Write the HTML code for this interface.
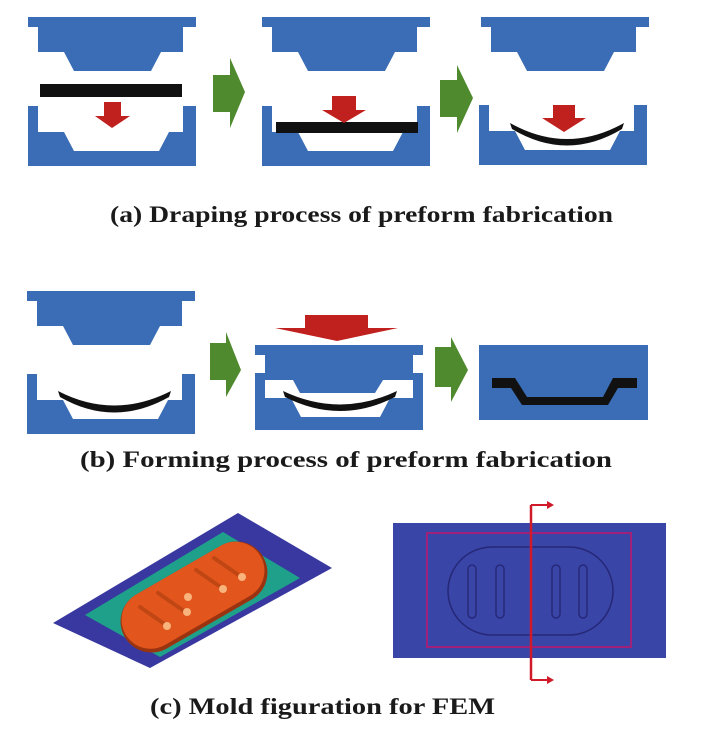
<!DOCTYPE html>
<html><head><meta charset="utf-8"><style>
html,body{margin:0;padding:0;background:#fff;}
svg{display:block;}
text{font-family:"Liberation Serif",serif;font-weight:bold;fill:#1a1a1a;}
</style></head><body>
<svg width="710" height="736" viewBox="0 0 710 736" xmlns="http://www.w3.org/2000/svg">
<defs>
<g id="up"><polygon points="0,0 168,0 168,10 155,10 155,35 133,35 123,54 46,54 36,35 10,35 10,10 0,10" fill="#3a6db5"/></g>
<g id="low"><rect x="0" y="0" width="168" height="60" fill="#3a6db5"/><polygon points="10,0 10,26 36,26 46,45 131,45 141,26 155,26 155,0" fill="#fff"/></g>
</defs>
<!-- (a) -->
<use href="#up" x="28" y="17"/><use href="#low" x="28" y="106"/>
<rect x="40" y="84" width="142" height="13" fill="#111"/>
<polygon points="104,102 121,102 121,116 130,116 112,128 95,116 104,116" fill="#c0201e"/>
<polygon points="213,75 230,75 230,58 245,92 230,128 230,112 213,112" fill="#4f8a2e"/>
<use href="#up" x="262" y="17"/><use href="#low" x="262" y="106"/>
<rect x="276" y="122" width="142" height="11" fill="#111"/>
<polygon points="332,96 356,96 356,110 366,110 344,123 322,110 332,110" fill="#c0201e"/>
<polygon points="440,80 457,80 457,65 473,98 457,133 457,117 440,117" fill="#4f8a2e"/>
<use href="#up" x="481" y="17"/><use href="#low" x="479" y="105"/>
<path d="M510,123 Q567,155 624,123 L622,129 Q567,162 512,129 Z" fill="#111"/>
<polygon points="553,105 575,105 575,118 586,118 564,132 542,118 553,118" fill="#c0201e"/>
<text x="110" y="222" font-size="23" textLength="503" lengthAdjust="spacingAndGlyphs">(a) Draping process of preform fabrication</text>
<!-- (b) -->
<use href="#up" x="27" y="291"/><use href="#low" x="27" y="374"/>
<path d="M58,391 Q114,420 171,391 L169,397 Q114,428 60,397 Z" fill="#111"/>
<polygon points="210,343 226,343 226,332 241,370 226,397 226,380 210,380" fill="#4f8a2e"/>
<rect x="255" y="373" width="168" height="57" fill="#3a6db5"/>
<polygon points="265,373 265,398 291,398 301,417 380,417 390,398 413,398 413,373" fill="#fff"/>
<polygon points="255,345 423,345 423,355 413,355 413,380 383,380 375,393 300,393 293,380 265,380 265,355 255,355" fill="#3a6db5"/>
<path d="M283,391 Q340,418 397,391 L395,397 Q340,425 285,397 Z" fill="#111"/>
<polygon points="305,315 368,315 368,328 398,328 337,341 275,328 305,328" fill="#c0201e"/>
<polygon points="435,347 451,347 451,337 468,370 451,402 451,387 435,387" fill="#4f8a2e"/>
<rect x="479" y="345" width="169" height="75" fill="#3a6db5"/>
<polygon points="492,378 515,378 527,397 603,397 613,378 637,378 637,388 618,388 608,405 522,405 511,388 492,388" fill="#111"/>
<text x="80" y="467" font-size="23" textLength="532" lengthAdjust="spacingAndGlyphs">(b) Forming process of preform fabrication</text>
<!-- (c) left -->
<polygon points="238,513 332,568 150,668 53,623" fill="#3838a0"/>
<polygon points="223,532 300,578 160,657 85,615" fill="#1fa08a"/>
<g transform="translate(194,597) rotate(-30)">
<rect x="-80" y="-31" width="160" height="62" rx="31" fill="#9a3410"/>
<rect x="-78" y="-31" width="156" height="58" rx="29" fill="#e2561d"/>
</g>
<g stroke="#c04614" stroke-width="4" stroke-linecap="round">
<line x1="140" y1="607" x2="166" y2="625"/>
<line x1="158" y1="593" x2="184" y2="611"/>
<line x1="196" y1="570" x2="222" y2="588"/>
<line x1="214" y1="558" x2="240" y2="576"/>
</g>
<g fill="#f9b37c">
<circle cx="167" cy="626" r="4"/><circle cx="187" cy="612" r="4"/><circle cx="188" cy="597" r="4"/>
<circle cx="223" cy="589" r="4"/><circle cx="242" cy="577" r="4"/>
</g>
<!-- (c) right -->
<rect x="393" y="523" width="273" height="135" fill="#3a45a8"/>
<rect x="427" y="533" width="204" height="114" fill="none" stroke="#a0207a" stroke-width="2"/>
<rect x="448" y="547" width="165" height="88" rx="44" fill="none" stroke="#20206a" stroke-width="1.5" opacity="0.8"/>
<g fill="none" stroke="#22226e" stroke-width="1.5" opacity="0.8">
<rect x="468" y="565" width="8" height="53" rx="4"/><rect x="496" y="565" width="8" height="53" rx="4"/>
<rect x="552" y="565" width="8" height="53" rx="4"/><rect x="579" y="565" width="8" height="53" rx="4"/>
</g>
<path d="M531,505 L531,680" stroke="#d01a2a" stroke-width="2.5"/>
<path d="M531,505 L549,505 M531,680 L549,680" stroke="#d01a2a" stroke-width="2"/>
<polygon points="547,501 554,505 547,509" fill="#d01a2a"/><polygon points="547,676 554,680 547,684" fill="#d01a2a"/>
<text x="150" y="714" font-size="23" textLength="345" lengthAdjust="spacingAndGlyphs">(c) Mold figuration for FEM</text>
</svg>
</body></html>
